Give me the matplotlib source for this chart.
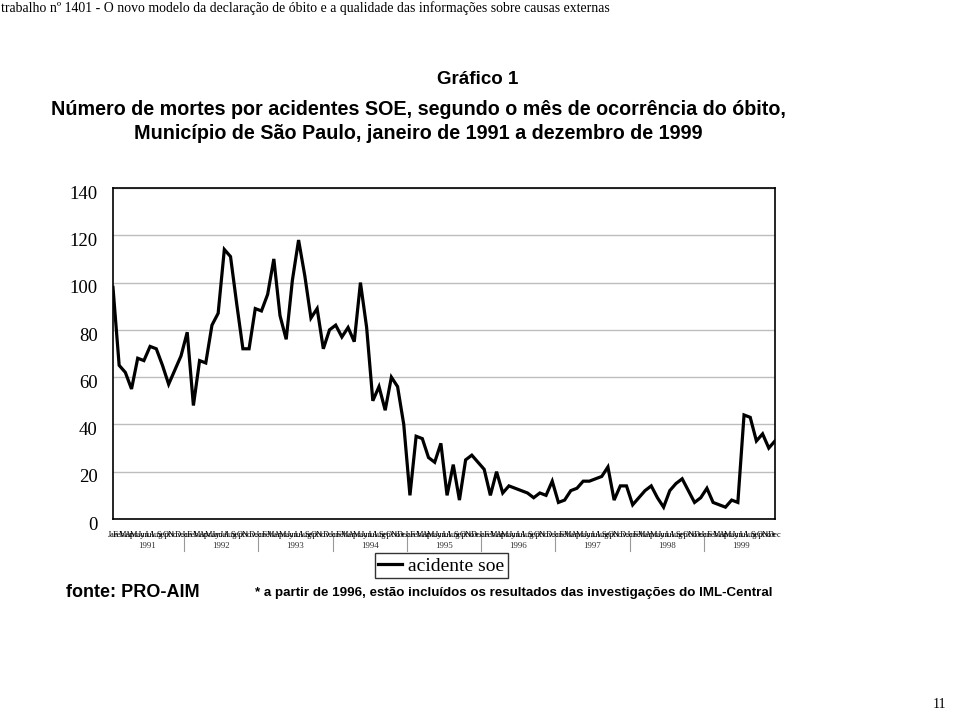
import numpy as np
import matplotlib.pyplot as plt
from matplotlib.transforms import blended_transform_factory, offset_copy

# monthly deaths, Jan 1991 .. Dec 1999
values = [
    98, 65, 62, 55, 68, 67, 73, 72, 65, 57, 63, 69,     # 1991
    79, 48, 67, 66, 82, 87, 114, 111, 91, 72, 72, 89,   # 1992
    88, 95, 110, 86, 76, 101, 118, 103, 85, 89, 72, 80,  # 1993
    82, 77, 81, 75, 100, 81, 50, 56, 46, 60, 56, 40,    # 1994
    10, 35, 34, 26, 24, 32, 10, 23, 8, 25, 27, 24,      # 1995
    21, 10, 20, 11, 14, 13, 12, 11, 9, 11, 10, 16,      # 1996
    7, 8, 12, 13, 16, 16, 17, 18, 22, 8, 14, 14,        # 1997
    6, 9, 12, 14, 9, 5, 12, 15, 17, 12, 7, 9,           # 1998
    13, 7, 6, 5, 8, 7, 44, 43, 33, 36, 30, 33,          # 1999
]
years = ["1991", "1992", "1993", "1994", "1995", "1996", "1997", "1998", "1999"]
months = ["Jan", "Feb", "Mar", "Apr", "May", "Jun",
          "Jul", "Aug", "Sep", "Oct", "Nov", "Dec"]
y_ticks = [0, 20, 40, 60, 80, 100, 120, 140]

serif = "Liberation Serif"
sans = "Liberation Sans"

fig = plt.figure(figsize=(9.59, 7.13), dpi=100)
ax = fig.add_axes([0.1178, 0.2721, 0.6903, 0.4642])

x = np.arange(len(values))
ax.plot(x, values, color="black", lw=2.3, solid_joinstyle="miter", label="acidente soe")

ax.set_xlim(0, len(values) - 1)
ax.set_ylim(0, 140)
ax.set_yticks(y_ticks)
ax.set_yticklabels([str(v) for v in y_ticks], fontfamily=serif, fontsize=13.5)
ax.tick_params(axis="y", length=0, pad=11)
for lbl in ax.get_yticklabels():
    lbl.set_transform(offset_copy(lbl.get_transform(), fig=fig, x=0, y=-3, units="points"))
ax.yaxis.grid(True, color="#bdbdbd", lw=1)
ax.set_axisbelow(True)
for s in ax.spines.values():
    s.set_color("black")
    s.set_linewidth(1.2)

# month labels (crowded, as in the original)
ax.set_xticks(x)
ax.set_xticklabels(months * len(years), fontfamily=serif, fontsize=6)
ax.tick_params(axis="x", length=0, pad=9)

# year labels and separators under the month labels
tr = blended_transform_factory(ax.transData, ax.transAxes)
for i, yr in enumerate(years):
    ax.text(i * 12 + 5.5, -0.083, yr, transform=tr, ha="center", va="center",
            fontfamily=serif, fontsize=6.5, color="#333333")
    if i > 0:
        ax.plot([i * 12 - 0.5] * 2, [-0.055, -0.098], transform=tr,
                color="#999999", lw=0.8, clip_on=False)

leg = ax.legend(loc="center", bbox_to_anchor=(0.46, 0.2065), bbox_transform=fig.transFigure,
                frameon=True, fancybox=False, edgecolor="black", handlelength=1.2,
                handletextpad=0.3, borderpad=0.2, borderaxespad=0,
                prop={"family": serif, "size": 14})
leg.get_frame().set_linewidth(1.0)

# header, titles and notes
fig.text(0.001, 0.989, "trabalho nº 1401 - O novo modelo da declaração de óbito e a qualidade das informações sobre causas externas",
         ha="left", va="center", fontfamily=serif, fontsize=9.9)
fig.text(0.4985, 0.889, "Gráfico 1", ha="center", va="center",
         fontfamily=sans, fontweight="bold", fontsize=13.5)
fig.text(0.4365, 0.846, "Número de mortes por acidentes SOE, segundo o mês de ocorrência do óbito,",
         ha="center", va="center", fontfamily=sans, fontweight="bold", fontsize=14.2)
fig.text(0.4365, 0.813, "Município de São Paulo, janeiro de 1991 a dezembro de 1999",
         ha="center", va="center", fontfamily=sans, fontweight="bold", fontsize=14.2)
fig.text(0.069, 0.1695, "fonte: PRO-AIM", ha="left", va="center",
         fontfamily=sans, fontweight="bold", fontsize=13)
fig.text(0.266, 0.1685, "* a partir de 1996, estão incluídos os resultados das investigações do IML-Central",
         ha="left", va="center", fontfamily=sans, fontweight="bold", fontsize=9.6)
fig.text(0.987, 0.012, "11", ha="right", va="center", fontfamily=serif, fontsize=10)

fig.savefig("out.png", dpi=100)
